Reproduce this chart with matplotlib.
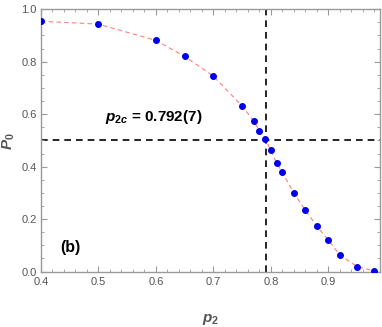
import matplotlib
matplotlib.use("Agg")
import matplotlib.pyplot as plt
from matplotlib.ticker import MultipleLocator, FormatStrFormatter

p2 = [0.40, 0.50, 0.60, 0.65, 0.70, 0.75, 0.77, 0.78, 0.79, 0.80, 0.81,
      0.82, 0.84, 0.86, 0.88, 0.90, 0.92, 0.95, 0.98]
P0 = [0.954, 0.943, 0.881, 0.820, 0.745, 0.631, 0.574, 0.537, 0.506, 0.462, 0.414,
      0.378, 0.299, 0.234, 0.173, 0.120, 0.063, 0.019, 0.002]
p2c = 0.792
half = 0.5

plt.rcParams['font.family'] = ['Liberation Sans', 'DejaVu Sans']
plt.rcParams['mathtext.fontset'] = 'custom'
plt.rcParams['mathtext.it'] = 'Liberation Sans:italic:bold'
plt.rcParams['mathtext.rm'] = 'Liberation Sans:bold'
plt.rcParams['mathtext.bf'] = 'Liberation Sans:bold'

fig = plt.figure(figsize=(3.82, 3.27), dpi=100)
ax = fig.add_axes([0.107, 0.167, 0.888, 0.805])

ax.plot(p2, P0, linestyle=(0, (4, 3)), color='#ff8080', lw=0.8, zorder=2)
ax.plot(p2, P0, 'o', color='#0000ee', ms=4.0, mec='#0000ee', zorder=3)
ax.axhline(half, color='black', ls=(0, (4, 3)), lw=1.2, zorder=1)
ax.axvline(p2c, color='black', ls=(0, (4, 3)), lw=1.2, zorder=1)

ax.set_xlim(0.4, 0.99)
ax.set_ylim(-0.003, 1.0)
ax.xaxis.set_major_locator(MultipleLocator(0.1))
ax.xaxis.set_minor_locator(MultipleLocator(0.02))
ax.yaxis.set_major_locator(MultipleLocator(0.2))
ax.yaxis.set_minor_locator(MultipleLocator(0.05))
ax.xaxis.set_major_formatter(FormatStrFormatter('%.1f'))
ax.yaxis.set_major_formatter(FormatStrFormatter('%.1f'))

gray = '#9a9a9a'
for s in ax.spines.values():
    s.set_color(gray)
    s.set_linewidth(1.0)
ax.tick_params(which='both', direction='in', top=True, right=True, colors=gray,
               labelcolor='#555555', labelsize=8)
ax.tick_params(which='major', length=4, width=0.8, pad=3)
ax.tick_params(which='minor', length=2, width=0.6)

ax.set_xlabel('$p_2$', fontsize=11, color='#555555')
ax.set_ylabel('$P_0$', fontsize=11, color='#555555')
ax.xaxis.set_label_coords(0.5, -0.15)
ax.yaxis.set_label_coords(-0.07, 0.5)

ax.text(0.19, 0.59, '$p_{2c}$ = 0.792(7)', transform=ax.transAxes,
        fontsize=11, fontweight='bold', ha='left', va='center')
ax.text(0.056, 0.095, '(b)', transform=ax.transAxes,
        fontsize=11.5, fontweight='bold', ha='left', va='center')

fig.savefig('out.png', dpi=100)
